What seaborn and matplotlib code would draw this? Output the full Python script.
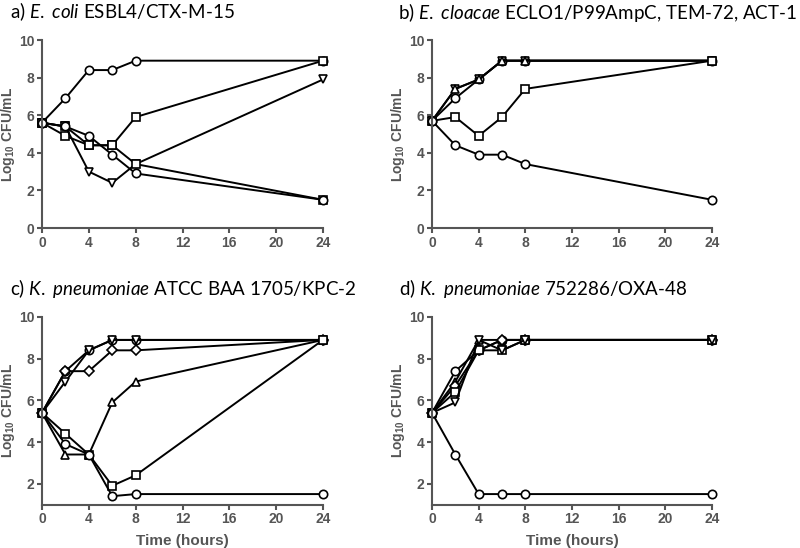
import matplotlib
matplotlib.use("Agg")
import matplotlib.pyplot as plt
import seaborn as sns
import pandas as pd

sns.set_style("ticks")
plt.rcParams['font.family'] = ['Liberation Sans', 'DejaVu Sans']
plt.rcParams['mathtext.fontset'] = 'custom'
plt.rcParams['mathtext.rm'] = 'Lato'
plt.rcParams['mathtext.it'] = 'Lato:italic'
plt.rcParams['mathtext.bf'] = 'Liberation Sans:bold'

GRAY = '#555555'

hours = [0, 2, 4, 6, 8, 24]
xticks = [0, 4, 8, 12, 16, 20, 24]

# a) E. coli
a_growth = [5.6, 6.9, 8.4, 8.4, 8.9, 8.9]
a_sq1 = [5.6, 4.9, 4.4, 4.4, 5.9, 8.9]
a_tri = [5.6, 5.4, 3.0, 2.4, 3.4, 7.9]
a_sq2 = [5.6, 5.4, 4.4, 4.4, 3.4, 1.5]
a_circ = [5.6, 5.4, 4.9, 3.9, 2.9, 1.5]

# b) E. cloacae
b_circ1 = [5.7, 6.9, 7.9, 8.9, 8.9, 8.9]
b_trd = [5.7, 7.4, 7.9, 8.9, 8.9, 8.9]
b_tru = [5.7, 7.4, 7.9, 8.9, 8.9, 8.9]
b_sq = [5.7, 5.9, 4.9, 5.9, 7.4, 8.9]
b_circ2 = [5.7, 4.4, 3.9, 3.9, 3.4, 1.5]

# c) K. pneumoniae ATCC BAA 1705
c_circ1 = [5.4, 7.4, 8.4, 8.9, 8.9, 8.9]
c_trd = [5.4, 6.9, 8.4, 8.9, 8.9, 8.9]
c_dia = [5.4, 7.4, 7.4, 8.4, 8.4, 8.9]
c_tru = [5.4, 3.4, 3.4, 5.9, 6.9, 8.9]
c_sq = [5.4, 4.4, 3.4, 1.9, 2.4, 8.9]
c_circ2 = [5.4, 3.9, 3.4, 1.4, 1.5, 1.5]

# d) K. pneumoniae 752286
d_circ1 = [5.4, 7.4, 8.4, 8.9, 8.9, 8.9]
d_tru = [5.4, 6.9, 8.9, 8.9, 8.9, 8.9]
d_dia = [5.4, 6.7, 8.4, 8.9, 8.9, 8.9]
d_sq = [5.4, 6.4, 8.4, 8.4, 8.9, 8.9]
d_trd = [5.4, 5.9, 8.9, 8.4, 8.9, 8.9]
d_circ2 = [5.4, 3.4, 1.5, 1.5, 1.5, 1.5]

panels = [
    (r"a) $\mathit{E.\ coli}$ ESBL4/CTX-M-15", [42, 40, 323, 228], (0, 10),
     [(a_growth, 'o'), (a_sq1, 's'), (a_tri, 'v'), (a_sq2, 's'), (a_circ, 'o')]),
    (r"b) $\mathit{E.\ cloacae}$ ECLO1/P99AmpC, TEM-72, ACT-1", [432, 40, 712, 228], (0, 10),
     [(b_circ1, 'o'), (b_trd, 'v'), (b_tru, '^'), (b_sq, 's'), (b_circ2, 'o')]),
    (r"c) $\mathit{K.\ pneumoniae}$ ATCC BAA 1705/KPC-2", [42, 317, 323, 504.5], (1, 10),
     [(c_circ1, 'o'), (c_trd, 'v'), (c_dia, 'D'), (c_tru, '^'), (c_sq, 's'), (c_circ2, 'o')]),
    (r"d) $\mathit{K.\ pneumoniae}$ 752286/OXA-48", [432, 317, 712, 504.5], (1, 10),
     [(d_circ1, 'o'), (d_tru, '^'), (d_dia, 'D'), (d_sq, 's'), (d_trd, 'v'), (d_circ2, 'o')]),
]
title_pos = [(10, 12), (398, 12), (10, 289), (399, 289)]

W, H = 800, 548
fig = plt.figure(figsize=(8, 5.48), dpi=100)

for i, (title, (x0, y0, x1, y1), ylim, series) in enumerate(panels):
    ax = fig.add_axes([x0 / W, 1 - y1 / H, (x1 - x0) / W, (y1 - y0) / H])
    for vals, mk in series:
        df = pd.DataFrame({'time': hours, 'cfu': vals})
        ms = 5.2 if mk == 'D' else 6
        sns.lineplot(data=df, x='time', y='cfu', ax=ax, color='black', lw=1.4,
                     marker=mk, markersize=ms, markerfacecolor='white',
                     markeredgecolor='black', markeredgewidth=1.2, clip_on=False)
    ax.set_xlim(0, 24)
    ax.set_ylim(*ylim)
    ax.set_xticks(xticks)
    ax.set_yticks([0, 2, 4, 6, 8, 10] if ylim[0] == 0 else [2, 4, 6, 8, 10])
    sns.despine(ax=ax)
    for s in ['left', 'bottom']:
        ax.spines[s].set_color(GRAY)
        ax.spines[s].set_linewidth(1.5)
    ax.tick_params(colors=GRAY, width=1.5, length=3.5, pad=2, labelsize=10)
    for lab in ax.get_xticklabels() + ax.get_yticklabels():
        lab.set_fontweight('bold')
    ax.set_ylabel(r"Log$_{\mathbf{10}}$ CFU/mL", fontsize=10, fontweight='bold', color=GRAY)
    ax.yaxis.set_label_coords(-0.09, 0.5)
    if i >= 2:
        ax.set_xlabel("Time (hours)", fontsize=11, fontweight='bold', color=GRAY)
        ax.xaxis.set_label_coords(0.5, -0.155)
    else:
        ax.set_xlabel("")
    tx, ty = title_pos[i]
    fig.text(tx / W, 1 - ty / H, title, fontsize=13.5, family='Lato',
             color='black', ha='left', va='center')

fig.savefig('out.png', dpi=100)
